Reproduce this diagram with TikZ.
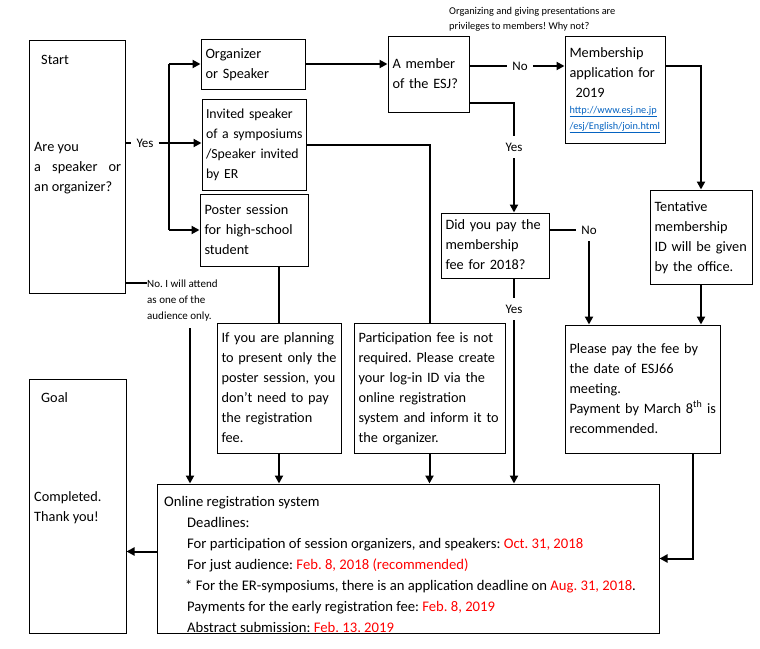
\documentclass[tikz,border=0pt]{standalone}
\usepackage{fontspec}
\setmainfont{Carlito}
\usetikzlibrary{arrows.meta}

\newcommand{\boxfont}{\fontsize{14.3}{20}\selectfont}
\newcommand{\lblfont}{\fontsize{13}{15}\selectfont}
\newcommand{\notefont}{\fontsize{10.4}{15}\selectfont}
\newcommand{\smallnote}{\fontsize{11}{16}\selectfont}
\newcommand{\urlfont}{\fontsize{10.3}{16}\selectfont}
\newcommand{\lines}[1]{\begin{tabular}{@{}l@{}}#1\end{tabular}}
\definecolor{linkblue}{RGB}{5,99,193}
\definecolor{datered}{RGB}{255,0,0}
\newcommand{\datetxt}[1]{\textcolor{datered}{#1}}
\frenchspacing

\begin{document}
\begin{tikzpicture}[x=1pt, y=-1pt,
    box/.style={draw, line width=1pt, rectangle, align=left, inner xsep=4.5pt, inner ysep=0pt, font=\boxfont},
    txt/.style={align=left, inner sep=0pt, font=\boxfont},
    conn/.style={line width=2pt},
    arrow/.style={conn, -{Triangle[length=8pt,width=8pt]}},
    lbl/.style={font=\lblfont, inner xsep=5pt, inner ysep=7pt}
]
\useasboundingbox (0,0) rectangle (760,648);

% Start and goal
\node[box, minimum width=96pt, minimum height=253pt] (start) at (77,166.5) {};
\node[txt, anchor=west] (starttitle) at (41,60) {Start};
\node[txt, anchor=west] (startq) at (34,167) {\lines{Are you\\\makebox[87pt][s]{a speaker or}\\an organizer?}};
\node[box, minimum width=97pt, minimum height=254pt] (goal) at (77.5,506) {};
\node[txt, anchor=west] (goaltitle) at (41,398) {Goal};
\node[txt, anchor=west] (goaltxt) at (34,507) {\lines{Completed.\\Thank you!}};

% First column
\node[box, minimum width=104pt, minimum height=50pt, text width=95pt] (org) at (253,64) {\lines{Organizer\\or Speaker}};
\node[box, minimum width=104pt, minimum height=91pt, text width=96pt, inner xsep=4pt, font=\fontsize{13.8}{20}\selectfont] (inv) at (254,144.5) {\lines{Invited speaker\\of a symposiums\\/Speaker invited\\by ER}};
\node[box, minimum width=108pt, minimum height=72pt, text width=99pt] (poster) at (254,230) {\lines{Poster session\\for high-school\\student}};

% Membership
\node[box, minimum width=81pt, minimum height=76pt, text width=72pt] (esj) at (428.5,74) {\lines{A member\\of the ESJ?}};
\node[box, minimum width=100pt, minimum height=107pt, text width=91pt] (memb) at (615,89.5) {\lines{Membership\\application for\\\hspace*{6pt}2019\\[-4pt]
    {\urlfont\color{linkblue}\underline{http://www.esj.ne.jp}}\\[-4pt]
    {\urlfont\color{linkblue}\underline{/esj/English/join.html}}}};
\node[box, minimum width=102pt, minimum height=94pt, text width=93pt] (tent) at (701,237) {\lines{Tentative\\membership\\ID will be given\\by the office.}};
\node[box, minimum width=108pt, minimum height=65pt, text width=99pt] (did) at (495,245.5) {\lines{Did you pay the\\membership\\fee for 2018?}};

% Fee boxes
\node[box, minimum width=124pt, minimum height=130pt, text width=115pt] (ifyou) at (279,388) {\lines{If you are planning\\to present only the\\poster session, you\\don’t need to pay\\the registration\\fee.}};
\node[box, minimum width=151pt, minimum height=130pt, text width=142pt] (part) at (429.5,388) {\lines{Participation fee is not\\required. Please create\\your log-in ID via the\\online registration\\system and inform it to\\the organizer.}};
\node[box, minimum width=155pt, minimum height=128pt, text width=146pt] (please) at (642.5,389) {\lines{Please pay the fee by\\the date of ESJ66\\meeting.\\Payment by March 8\textsuperscript{th} is\\recommended.}};

% Online registration
\node[box, minimum width=502pt, minimum height=149pt] (online) at (408,558.5) {};
\begin{scope}
\clip (online.north west) rectangle (online.east |- 0,631);
\node[txt, font=\fontsize{14.67}{20.9}\selectfont, anchor=north west] (onlinetxt) at (164,492) {\lines{Online registration system\\
    \hspace*{23pt}Deadlines:\\
    \hspace*{23pt}For participation of session organizers, and speakers: \datetxt{Oct. 31, 2018}\\
    \hspace*{23pt}For just audience: \datetxt{Feb. 8, 2018 (recommended)}\\
    \hspace*{21pt}* For the ER-symposiums, there is an application deadline on \datetxt{Aug. 31, 2018}.\\
    \hspace*{23pt}Payments for the early registration fee: \datetxt{Feb. 8, 2019}\\
    \hspace*{23pt}Abstract submission: \datetxt{Feb. 13, 2019}}};
\end{scope}

% Notes
\node[txt, font=\notefont, anchor=north west] (note) at (449,4) {\lines{Organizing and giving presentations are\\privileges to members! Why not?}};
\node[txt, font=\smallnote, anchor=north west] (nolbl) at (147,276) {\lines{No. I will attend\\as one of the\\audience only.}};

% Yes branch
\node[lbl] (yes1) at (145,143) {Yes};
\coordinate (bus) at (169,143);
\draw[conn] (start.east |- yes1) -- (yes1.west);
\draw[conn] (yes1.east) -- (bus);
\draw[conn] (bus |- org) -- (bus |- poster);
\draw[arrow] (bus |- org) -- (org.west);
\draw[arrow] (bus) -- (bus -| inv.west);
\draw[arrow] (bus |- poster) -- (poster.west);

% No branch
\coordinate (noattend) at (147,283);
\coordinate (audtop) at (190,328);
\draw[conn] (start.east |- noattend) -- (noattend);
\draw[arrow] (audtop) -- (audtop |- online.north);

% Poster and invited
\draw[conn] (ifyou.north |- poster.south) -- (ifyou.north);
\draw[arrow] (ifyou.south) -- (ifyou.south |- online.north);
\draw[conn] (inv.east) -| (part.north);
\draw[arrow] (part.south) -- (part.south |- online.north);

% Member?
\draw[arrow] (org.east) -- (org.east -| esj.west);
\node[lbl] (no1) at (520,66) {No};
\draw[conn] (esj.east |- no1) -- (no1.west);
\draw[arrow] (no1.east) -- (no1 -| memb.west);
\draw[arrow] (memb.east |- no1) -| (tent.north);
\node[lbl] (yes2) at (514,147) {Yes};
\draw[conn] ([yshift=10pt]esj.south east) -| (yes2.north);
\draw[arrow] (yes2.south) -- (yes2.south |- did.north);

% Paid?
\node[lbl] (no2) at (589,230) {No};
\draw[conn] (did.east |- no2) -- (no2.west);
\draw[arrow] (no2.south) -- (no2.south |- please.north);
\node[lbl] (yes3) at (514,309) {Yes};
\draw[conn] (yes3 |- did.south) -- (yes3.north);
\draw[arrow] (yes3.south) -- (yes3.south |- online.north);

% Fee and goal
\draw[arrow] (tent.south) -- (tent.south |- please.north);
\draw[arrow] ([xshift=50.5pt]please.south) |- (online.east);
\draw[arrow] ([yshift=7pt]online.west) -- ([yshift=7pt]online.west -| goal.east);

\end{tikzpicture}
\end{document}
